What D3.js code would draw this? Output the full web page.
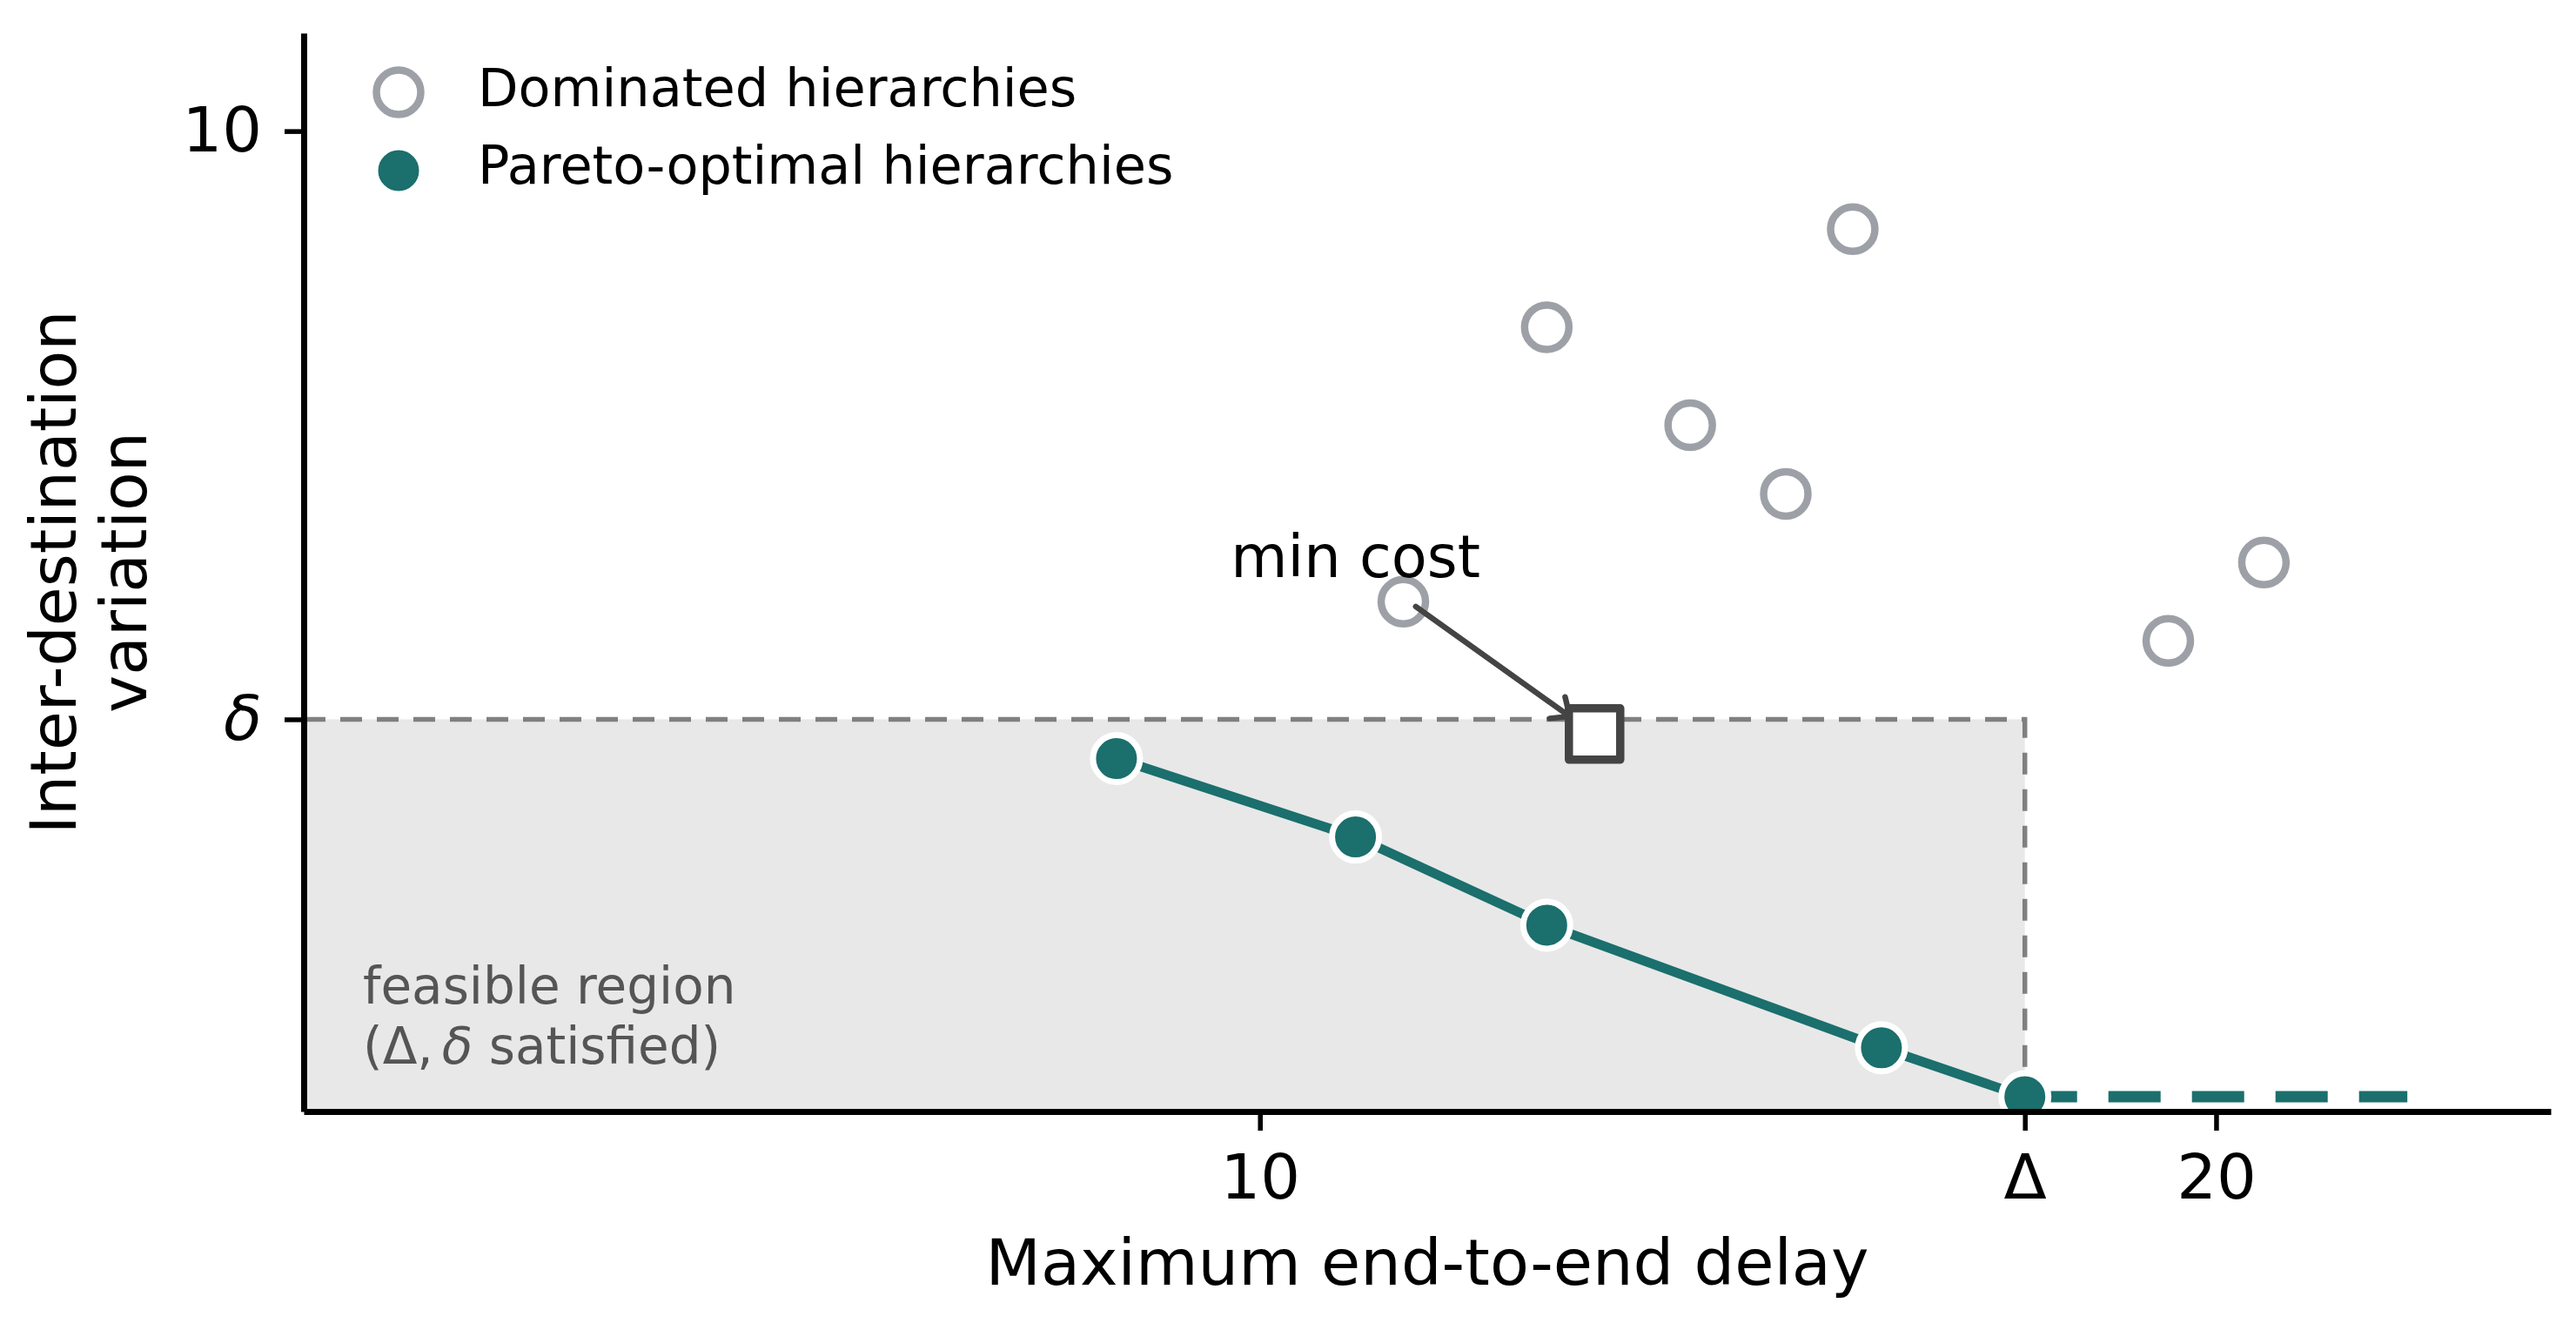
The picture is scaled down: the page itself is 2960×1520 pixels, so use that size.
<!DOCTYPE html>
<html>
<head>
<meta charset="utf-8">
<script src="https://cdn.jsdelivr.net/npm/d3@7"></script>
<style>
  body { margin: 0; background: #fff; }
  text { font-family: "DejaVu Sans", sans-serif; }
</style>
</head>
<body>
<script>
// ---- data ----
const domX = [13, 16.2, 14.5, 15.5, 11.5, 19.5, 20.5];
const domY = [8, 9, 7, 6.3, 5.2, 4.8, 5.6];
const paretoX = [8.5, 11, 13, 16.5, 18];
const paretoY = [3.6, 2.8, 1.9, 0.65, 0.15];
const extX = [18, 22];          // dashed continuation of the front
const DELAY_MAX = 18;           // Δ
const VAR_MAX = 4;              // δ
const minCost = [13.5, 3.85];
const minCostLabel = [11, 5.45];
const arrowFrom = [11.63, 5.15];
const arrowTo = [13.24, 4.03];
const xTicks = [10, 18, 20];
const xTickLabels = ["10", "Δ", "20"];
const yTicks = [4, 10];
const yTickLabels = ["δ", "10"];

const TEAL = "#1b6f6d";
const GRAY = "#9da1a7";
const DARK = "#444444";

const W = 2960, H = 1520;
const M = { l: 349, r: 29, t: 38, b: 243 };

const svg = d3.select("body").append("svg")
  .attr("width", W).attr("height", H);

const x = d3.scaleLinear().domain([0, 23.5]).range([M.l, W - M.r]);
const y = d3.scaleLinear().domain([0, 11]).range([H - M.b, M.t]);

svg.append("defs").append("clipPath").attr("id", "plot")
  .append("rect")
  .attr("x", x(0)).attr("y", y(11))
  .attr("width", x(23.5) - x(0)).attr("height", y(0) - y(11));

const g = svg.append("g").attr("clip-path", "url(#plot)");

// feasible region
g.append("rect")
  .attr("x", x(0)).attr("y", y(VAR_MAX))
  .attr("width", x(DELAY_MAX) - x(0))
  .attr("height", y(0) - y(VAR_MAX))
  .attr("fill", "#e8e8e8");

// constraint lines
g.append("path")
  .attr("d", d3.line()([[x(0), y(VAR_MAX)], [x(DELAY_MAX), y(VAR_MAX)], [x(DELAY_MAX), y(0)]]))
  .attr("fill", "none")
  .attr("stroke", "#808080")
  .attr("stroke-width", 5.5)
  .attr("stroke-dasharray", "25,17");

// pareto front
const pareto = paretoX.map((d, i) => [d, paretoY[i]]);
const line = d3.line().x(d => x(d[0])).y(d => y(d[1]));

g.append("path")
  .datum(extX.map(d => [d, paretoY[paretoY.length - 1]]))
  .attr("d", line)
  .attr("fill", "none")
  .attr("stroke", TEAL)
  .attr("stroke-width", 13)
  .attr("stroke-dasharray", "60,36");

g.append("path")
  .datum(pareto)
  .attr("d", line)
  .attr("fill", "none")
  .attr("stroke", TEAL)
  .attr("stroke-width", 11);

g.selectAll("circle.pareto")
  .data(pareto)
  .join("circle")
  .attr("class", "pareto")
  .attr("cx", d => x(d[0]))
  .attr("cy", d => y(d[1]))
  .attr("r", 27)
  .attr("fill", TEAL)
  .attr("stroke", "#fff")
  .attr("stroke-width", 7);

// dominated
g.selectAll("circle.dom")
  .data(domX.map((d, i) => [d, domY[i]]))
  .join("circle")
  .attr("class", "dom")
  .attr("cx", d => x(d[0]))
  .attr("cy", d => y(d[1]))
  .attr("r", 25.5)
  .attr("fill", "#fff")
  .attr("stroke", GRAY)
  .attr("stroke-width", 8.5);

// min cost marker
g.append("rect")
  .attr("x", x(minCost[0]) - 29.5)
  .attr("y", y(minCost[1]) - 29.5)
  .attr("width", 59).attr("height", 59)
  .attr("fill", "#fff")
  .attr("stroke", DARK)
  .attr("stroke-width", 9.5)
  .attr("stroke-linejoin", "round");

// annotation arrow
const ax0 = x(arrowFrom[0]), ay0 = y(arrowFrom[1]);
const ax1 = x(arrowTo[0]), ay1 = y(arrowTo[1]);
const ang = Math.atan2(ay0 - ay1, ax0 - ax1);
const head = 23, spread = 0.72;
svg.append("path")
  .attr("d", `M${ax0},${ay0}L${ax1},${ay1}` +
    `M${ax1 + head * Math.cos(ang + spread)},${ay1 + head * Math.sin(ang + spread)}` +
    `L${ax1},${ay1}` +
    `L${ax1 + head * Math.cos(ang - spread)},${ay1 + head * Math.sin(ang - spread)}`)
  .attr("fill", "none")
  .attr("stroke", DARK)
  .attr("stroke-width", 6.5)
  .attr("stroke-linecap", "round")
  .attr("stroke-linejoin", "round");

svg.append("text")
  .attr("x", x(minCostLabel[0]))
  .attr("y", y(minCostLabel[1]))
  .attr("text-anchor", "middle")
  .attr("font-size", 67)
  .text("min cost");

// feasible text
const ft = svg.append("text")
  .attr("font-size", 58)
  .attr("fill", "#555");
ft.append("tspan").attr("x", 417).attr("y", 1153).text("feasible region");
const ft2 = ft.append("tspan").attr("x", 417).attr("y", 1222);
ft2.append("tspan").text("(Δ,");
ft2.append("tspan").attr("dx", 10).attr("font-style", "italic").text("δ");
ft2.append("tspan").text(" satisfied)");

// axes
const xAxis = svg.append("g")
  .attr("transform", `translate(0,${y(0)})`)
  .call(d3.axisBottom(x).tickValues(xTicks)
    .tickFormat((d, i) => xTickLabels[i])
    .tickSize(22).tickSizeOuter(0).tickPadding(27));

const yAxis = svg.append("g")
  .attr("transform", `translate(${x(0)},0)`)
  .call(d3.axisLeft(y).tickValues(yTicks)
    .tickFormat((d, i) => yTickLabels[i])
    .tickSize(22).tickSizeOuter(0).tickPadding(26));

[xAxis, yAxis].forEach(a => {
  a.select(".domain").attr("stroke", "#000").attr("stroke-width", 7);
  a.selectAll(".tick line").attr("stroke", "#000").attr("stroke-width", 5.5);
  a.selectAll(".tick text")
    .attr("font-family", "DejaVu Sans, sans-serif")
    .attr("font-size", 72)
    .attr("fill", "#000");
});
yAxis.selectAll(".tick text").filter((d, i) => yTickLabels[i] === "δ")
  .attr("font-style", "italic");

// axis titles
svg.append("text")
  .attr("x", (x(0) + x(23.5)) / 2)
  .attr("y", 1476)
  .attr("text-anchor", "middle")
  .attr("font-size", 73.5)
  .text("Maximum end-to-end delay");

const yl = svg.append("text")
  .attr("transform", `translate(87,${(y(0) + y(11)) / 2}) rotate(-90)`)
  .attr("text-anchor", "middle")
  .attr("font-size", 73);
yl.append("tspan").attr("x", 0).attr("y", 0).text("Inter-destination");
yl.append("tspan").attr("x", 0).attr("y", 81).text("variation");

// legend
const lg = svg.append("g");
lg.append("circle")
  .attr("cx", 458).attr("cy", 106).attr("r", 25.5)
  .attr("fill", "#fff").attr("stroke", GRAY).attr("stroke-width", 8.5);
lg.append("text").attr("x", 549).attr("y", 122)
  .attr("font-size", 60.5).text("Dominated hierarchies");
lg.append("circle")
  .attr("cx", 458).attr("cy", 196).attr("r", 27)
  .attr("fill", TEAL).attr("stroke", "#fff").attr("stroke-width", 7);
lg.append("text").attr("x", 549).attr("y", 211)
  .attr("font-size", 60.5).text("Pareto-optimal hierarchies");
</script>
</body>
</html>
